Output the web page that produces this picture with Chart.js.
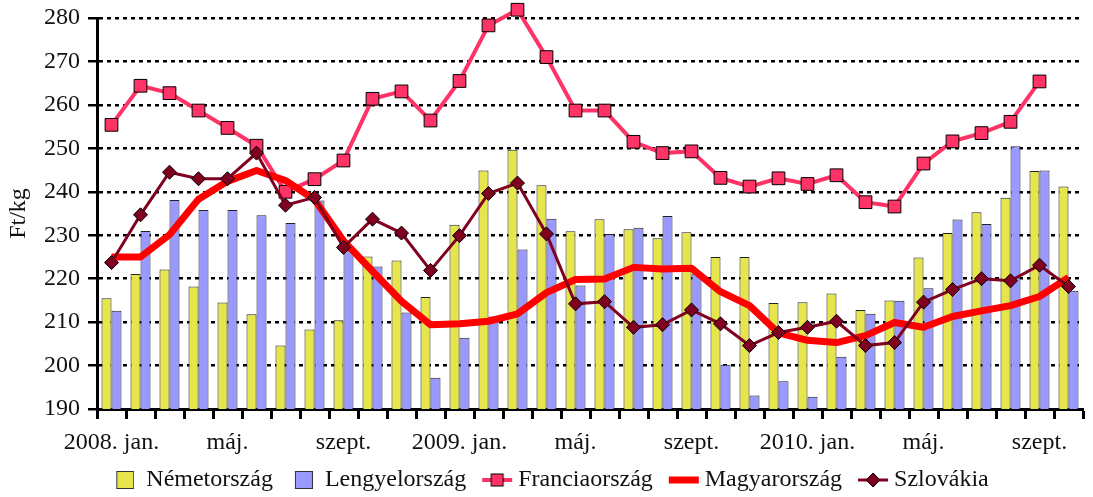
<!DOCTYPE html>
<html>
<head>
<meta charset="utf-8">
<script src="https://cdn.jsdelivr.net/npm/chart.js@4.4.1/dist/chart.umd.min.js"></script>
<style>
  html, body { margin: 0; padding: 0; background: #fff; }
  #wrap { width: 1093px; height: 497px; }
</style>
</head>
<body>
<div id="wrap"><canvas id="myChart" width="1093" height="497"></canvas></div>
<script>
// havi adatok, 2008. jan. - 2010. okt.
var months = ['2008. jan.', 'febr.', 'márc.', 'ápr.', 'máj.', 'jún.', 'júl.', 'aug.', 'szept.', 'okt.', 'nov.', 'dec.',
    '2009. jan.', 'febr.', 'márc.', 'ápr.', 'máj.', 'jún.', 'júl.', 'aug.', 'szept.', 'okt.', 'nov.', 'dec.',
    '2010. jan.', 'febr.', 'márc.', 'ápr.', 'máj.', 'jún.', 'júl.', 'aug.', 'szept.', 'okt.'];
var shownEvery = 4;
var yTicks = { min: 190, max: 280, step: 10 };

var nemet = [215.5, 221.1, 222.1, 218.2, 214.5, 211.8, 204.6, 208.3, 210.4, 225.1, 224.2, 215.8,
    232.4, 244.9, 249.7, 241.5, 230.9, 233.7, 231.4, 229.3, 230.7, 225.0, 225.0, 214.4,
    214.6, 216.6, 212.8, 215.0, 224.9, 230.5, 235.3, 238.6, 244.8, 241.2];
var lengyel = [212.6, 231.0, 238.1, 235.8, 235.8, 234.6, 232.8, 238.0, 226.3, 222.8, 212.2, 197.2,
    206.4, 211.3, 226.7, 233.8, 218.4, 230.3, 231.7, 234.4, 221.0, 200.2, 193.1, 196.4,
    192.8, 202.0, 211.9, 214.9, 217.8, 233.6, 232.6, 250.5, 244.9, 217.2];
var francia = [255.4, 264.4, 262.7, 258.7, 254.7, 250.6, 240.0, 242.9, 247.2, 261.4, 263.1, 256.4,
    265.5, 278.3, 281.9, 271.0, 258.7, 258.7, 251.5, 248.9, 249.3, 243.2, 241.2, 243.1,
    241.8, 243.8, 237.6, 236.6, 246.5, 251.6, 253.5, 256.1, 265.4, null];
var magyar = [225.0, 225.0, 230.1, 238.3, 242.4, 244.9, 242.6, 238.2, 228.7, 221.7, 214.8, 209.4,
    209.6, 210.2, 211.9, 216.8, 219.8, 219.9, 222.6, 222.2, 222.4, 217.0, 213.8, 207.5,
    205.8, 205.3, 206.9, 209.9, 208.8, 211.3, 212.6, 213.8, 215.9, 220.3];
var szlovak = [223.7, 234.7, 244.5, 243.0, 243.0, 248.9, 236.9, 238.7, 227.2, 233.7, 230.5, 221.9,
    229.9, 239.6, 242.0, 230.3, 214.2, 214.7, 208.8, 209.4, 212.8, 209.6, 204.6, 207.6,
    208.8, 210.2, 204.6, 205.3, 214.6, 217.5, 220.0, 219.5, 223.1, 218.2];

var FONT = "'Liberation Serif', 'Times New Roman', serif";
var C_YELLOW = '#E6E64C';
var C_BLUE = '#9999FF';
var C_PINK = '#FF3366';
var C_RED = '#FF0000';
var C_MAROON = '#800020';

// legend symbols (the empty left part of the canvas gives the gap between items)
var BW = 35;
function legendSymbol(kind) {
    var c = document.createElement('canvas');
    var box = kind == 'yellow' || kind == 'blue';
    c.width = box ? BW : BW + 14;
    c.height = 22;
    var g = c.getContext('2d');
    var cy = 11;
    if (box) {
        g.fillStyle = kind == 'yellow' ? C_YELLOW : C_BLUE;
        g.fillRect(BW - 17.5, 2.5, 17, 17);
        g.strokeStyle = '#333';
        g.lineWidth = 1;
        g.strokeRect(BW - 17.5, 2.5, 17, 17);
        return c;
    }
    var x0 = c.width - 31, x1 = c.width - 1, xm = (x0 + x1) / 2;
    if (kind == 'pink') {
        g.strokeStyle = C_PINK; g.lineWidth = 4;
        g.beginPath(); g.moveTo(x0, cy); g.lineTo(x1, cy); g.stroke();
        g.fillStyle = C_PINK; g.fillRect(xm - 6, cy - 6, 12, 12);
        g.strokeStyle = '#000'; g.lineWidth = 1; g.strokeRect(xm - 6, cy - 6, 12, 12);
    } else if (kind == 'red') {
        g.strokeStyle = C_RED; g.lineWidth = 7;
        g.beginPath(); g.moveTo(x0, cy); g.lineTo(x1, cy); g.stroke();
    } else {
        g.strokeStyle = C_MAROON; g.lineWidth = 3;
        g.beginPath(); g.moveTo(x0, cy); g.lineTo(x1, cy); g.stroke();
        g.fillStyle = C_MAROON;
        g.beginPath(); g.moveTo(xm, cy - 7); g.lineTo(xm + 7, cy); g.lineTo(xm, cy + 7); g.lineTo(xm - 7, cy); g.closePath();
        g.fill(); g.strokeStyle = '#000'; g.lineWidth = 1; g.stroke();
    }
    return c;
}
var symbols = ['yellow', 'blue', 'pink', 'red', 'maroon'].map(legendSymbol);

var ctx = document.getElementById('myChart').getContext('2d');
var chart = new Chart(ctx, {
    type: 'bar',
    data: {
        labels: months,
        datasets: [
            { label: 'Németország', data: nemet, backgroundColor: C_YELLOW, borderColor: '#222', borderWidth: 1,
              categoryPercentage: 0.69, barPercentage: 1, order: 10 },
            { label: 'Lengyelország', data: lengyel, backgroundColor: C_BLUE, borderColor: '#222', borderWidth: 1,
              categoryPercentage: 0.69, barPercentage: 1, order: 10 },
            { type: 'line', label: 'Franciaország', data: francia, borderColor: C_PINK, borderWidth: 4,
              backgroundColor: C_PINK, pointStyle: 'rect', pointRadius: 9, pointBorderColor: '#000',
              pointBorderWidth: 1, pointBackgroundColor: C_PINK, tension: 0, order: 3, clip: false },
            { type: 'line', label: 'Magyarország', data: magyar, borderColor: C_RED, borderWidth: 7,
              pointRadius: 0, tension: 0, borderJoinStyle: 'round', order: 2 },
            { type: 'line', label: 'Szlovákia', data: szlovak, borderColor: C_MAROON, borderWidth: 3,
              pointStyle: 'rectRot', pointRadius: 7, pointBackgroundColor: C_MAROON, pointBorderColor: '#000',
              pointBorderWidth: 1, tension: 0, order: 1 }
        ]
    },
    options: {
        responsive: false,
        animation: false,
        layout: { padding: { left: 0, right: 5, top: 18, bottom: -5 } },
        plugins: {
            tooltip: { enabled: false },
            legend: {
                position: 'bottom',
                labels: {
                    color: '#111',
                    font: { family: FONT, size: 24 },
                    usePointStyle: true,
                    pointStyleWidth: BW,
                    padding: 5,
                    generateLabels: function (chart) {
                        return chart.data.datasets.map(function (ds, i) {
                            return { text: ds.label, datasetIndex: i, pointStyle: symbols[i],
                                     fillStyle: 'transparent', strokeStyle: 'transparent', lineWidth: 0,
                                     fontColor: '#111', hidden: false };
                        });
                    }
                }
            }
        },
        scales: {
            x: {
                offset: true,
                grid: { display: true, offset: true, drawOnChartArea: false, drawTicks: true,
                        tickLength: 10, tickWidth: 3, tickColor: '#000' },
                border: { display: true, color: '#000', width: 3 },
                ticks: {
                    autoSkip: false, maxRotation: 0, padding: 9,
                    color: '#111', font: { family: FONT, size: 24 },
                    callback: function (v, i) { return i % shownEvery == 0 ? months[i] : ''; }
                },
                afterFit: function (s) { s.height = 54; }
            },
            y: {
                min: yTicks.min, max: yTicks.max,
                ticks: { stepSize: yTicks.step, padding: 8, color: '#111', font: { family: FONT, size: 24 } },
                grid: { color: '#000', lineWidth: 2.5, tickLength: 9,
                        tickColor: '#000', tickWidth: 2.5, tickBorderDash: [] },
                border: { display: true, color: '#000', width: 3, dash: [4, 4] },
                title: { display: true, text: 'Ft/kg', color: '#111', font: { family: FONT, size: 24 },
                         padding: { top: 4, bottom: 0 } },
                afterFit: function (s) { s.width = 97; s.paddingTop = 0; s.paddingBottom = 0; }
            }
        }
    }
});
</script>
</body>
</html>
